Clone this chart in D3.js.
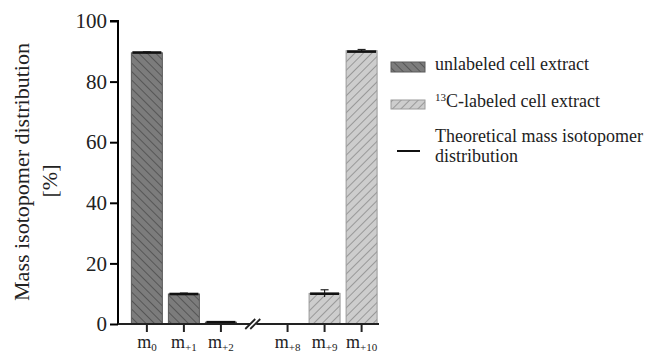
<!DOCTYPE html>
<html>
<head>
<meta charset="utf-8">
<script src="https://cdn.jsdelivr.net/npm/d3@7"></script>
<style>
  html, body { margin: 0; padding: 0; background: #fff; }
  svg { display: block; font-family: 'Liberation Serif', 'Times New Roman', serif; }
</style>
</head>
<body>
<div id="chart"></div>
<script>
// mass isotopomers (subscript part of the label)
const isotopomers = ['0', '+1', '+2', '+8', '+9', '+10'];
// 0 = before the axis break, 1 = after it
const breakGroup = [0, 0, 0, 1, 1, 1];
const unlabeled = [89.5, 9.9, 0.6, null, null, null];
const labeled = [null, null, null, 0, 10.1, 90.2];
const errors = [0.3, 0.3, 0.2, 0, 1.2, 0.4];
const theoretical = [89.6, 9.9, 0.6, 0, 10.0, 89.9];
const yTicks = [0, 20, 40, 60, 80, 100];

const W = 649, H = 353;
const svg = d3.select('#chart').append('svg')
  .attr('width', W).attr('height', H);

const gapSize = 0.8;
const slot = i => i + breakGroup[i] * gapSize;

const x = d3.scaleLinear().domain([-0.78, 6.27]).range([118, 379]);
const y = d3.scaleLinear().domain([0, 100]).range([324, 21]);
const barW = 31;

// hatch patterns
const defs = svg.append('defs');
function hatch(id, fill, stroke, dir) {
  const p = defs.append('pattern')
    .attr('id', id).attr('patternUnits', 'userSpaceOnUse')
    .attr('width', 6).attr('height', 6)
    .attr('patternTransform', `rotate(${dir})`);
  p.append('rect').attr('width', 6).attr('height', 6).attr('fill', fill);
  p.append('line').attr('x1', 0).attr('y1', 0).attr('x2', 0).attr('y2', 6)
    .attr('stroke', stroke).attr('stroke-width', 1.6);
}
hatch('hUnl', '#7c7c7c', '#4c4c4c', -45);
hatch('hLab', '#cdcdcd', '#8a8a8a', 45);

const rows = isotopomers.map((m, i) => ({
  m, i, unl: unlabeled[i], lab: labeled[i], err: errors[i], th: theoretical[i]
}));

// bars
const bars = svg.append('g');
rows.forEach(d => {
  const v = d.unl != null ? d.unl : d.lab;
  if (v == null || v <= 0) return;
  bars.append('rect')
    .attr('x', x(slot(d.i)) - barW / 2)
    .attr('y', y(v))
    .attr('width', barW)
    .attr('height', y(0) - y(v))
    .attr('fill', d.unl != null ? 'url(#hUnl)' : 'url(#hLab)')
    .attr('stroke', d.unl != null ? '#5a5a5a' : '#9a9a9a')
    .attr('stroke-width', 1);
});

// error bars
const errG = svg.append('g').attr('stroke', '#222').attr('stroke-width', 1.2);
rows.forEach(d => {
  const v = d.unl != null ? d.unl : d.lab;
  if (!d.err) return;
  const cx = x(slot(d.i));
  errG.append('line').attr('x1', cx).attr('x2', cx)
    .attr('y1', y(v - d.err)).attr('y2', y(v + d.err));
  errG.append('line').attr('x1', cx - 4).attr('x2', cx + 4)
    .attr('y1', y(v + d.err)).attr('y2', y(v + d.err));
});

// theoretical distribution
svg.append('g').selectAll('line').data(rows.filter(d => d.th > 0)).join('line')
  .attr('x1', d => x(slot(d.i)) - barW / 2 + 1)
  .attr('x2', d => x(slot(d.i)) + barW / 2 - 1)
  .attr('y1', d => y(d.th)).attr('y2', d => y(d.th))
  .attr('stroke', '#111').attr('stroke-width', 2.6);

// y axis
const yAxis = svg.append('g').attr('transform', `translate(${x.range()[0]},0)`)
  .call(d3.axisLeft(y).tickValues(yTicks).tickSize(8).tickPadding(3));
yAxis.select('.domain').attr('d', `M-8,${y(100)}H0V${y(0)}`).attr('stroke-width', 2);
yAxis.selectAll('.tick line').attr('stroke-width', 2);
yAxis.selectAll('.tick text').attr('font-size', 21).attr('font-family', 'Liberation Serif')
  .attr('fill', '#222');

// x axis
const xAxis = svg.append('g').attr('transform', `translate(0,${y(0)})`);
xAxis.append('line').attr('x1', x.range()[0]).attr('x2', x.range()[1])
  .attr('stroke', '#222').attr('stroke-width', 2);
const xt = xAxis.selectAll('g.xt').data(rows).join('g')
  .attr('class', 'xt').attr('transform', d => `translate(${x(slot(d.i))},0)`);
xt.append('line').attr('y1', 0).attr('y2', 8).attr('stroke', '#222').attr('stroke-width', 2);
const lbl = xt.append('text').attr('y', 24).attr('text-anchor', 'middle')
  .attr('font-size', 18).attr('fill', '#222');
lbl.append('tspan').text('m');
lbl.append('tspan').attr('font-size', 11).attr('dy', 3).text(d => d.m);

// axis break marks
const bx = (x(slot(2)) + x(slot(3))) / 2;
const brk = xAxis.append('g').attr('transform', `translate(${bx},0)`);
brk.append('rect').attr('x', -4).attr('y', -3).attr('width', 6).attr('height', 6).attr('fill', '#fff');
[-4, 1].forEach(o => {
  brk.append('line').attr('x1', o - 5).attr('y1', 5).attr('x2', o + 5).attr('y2', -5)
    .attr('stroke', '#222').attr('stroke-width', 1.8);
});

// y label
svg.append('text')
  .attr('transform', `translate(29,172) rotate(-90)`)
  .attr('text-anchor', 'middle').attr('font-size', 22).attr('fill', '#222')
  .text('Mass isotopomer distribution');
svg.append('text')
  .attr('transform', `translate(57,181) rotate(-90)`)
  .attr('text-anchor', 'middle').attr('font-size', 22).attr('fill', '#222')
  .text('[%]');

// legend
const lg = svg.append('g').attr('font-size', 18).attr('fill', '#222');
lg.append('rect').attr('x', 391).attr('y', 62).attr('width', 34).attr('height', 10)
  .attr('fill', 'url(#hUnl)').attr('stroke', '#5a5a5a');
lg.append('text').attr('x', 435).attr('y', 70).text('unlabeled cell extract');
lg.append('rect').attr('x', 391).attr('y', 100).attr('width', 34).attr('height', 9)
  .attr('fill', 'url(#hLab)').attr('stroke', '#9a9a9a');
const t2 = lg.append('text').attr('x', 435).attr('y', 107);
t2.append('tspan').attr('font-size', 11).attr('dy', -6).text('13');
t2.append('tspan').attr('dy', 6).text('C-labeled cell extract');
lg.append('line').attr('x1', 397).attr('x2', 420).attr('y1', 151).attr('y2', 151)
  .attr('stroke', '#111').attr('stroke-width', 2);
lg.append('text').attr('x', 435).attr('y', 142).text('Theoretical mass isotopomer');
lg.append('text').attr('x', 435).attr('y', 162).text('distribution');
</script>
</body>
</html>
